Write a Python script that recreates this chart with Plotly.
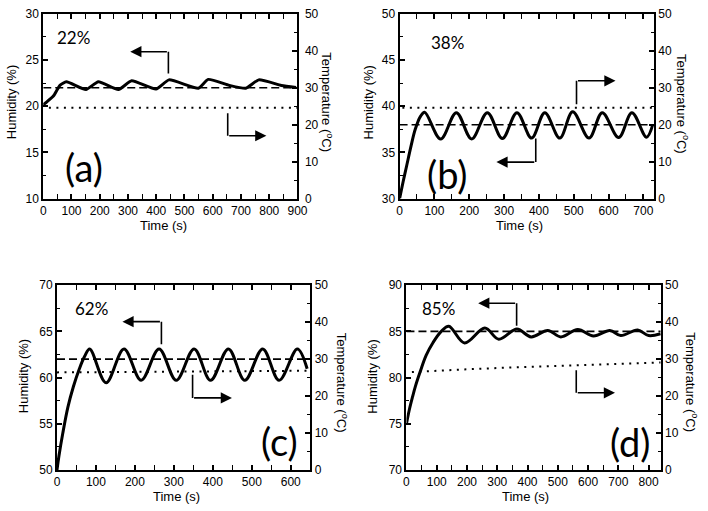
import plotly.graph_objects as go

W, H = 708, 511

# ---------------- data ----------------
# (a) 22 %
time_a = [0, 10, 36, 59, 82, 151, 195, 266, 313, 399, 445, 549, 584, 659, 717, 763, 843, 895]
hum_a = [20.15, 20.4, 21.1, 22.25, 22.65, 21.8, 22.65, 21.8, 22.75, 21.85, 22.85, 21.95, 22.9, 22.25, 21.95, 22.85, 22.25, 22.03]
temp_time_a = [20, 300, 600, 900]
temp_a = [24.6, 24.6, 24.6, 24.6]

# (b) 38 %
time_b = [0, 10, 20, 33, 45, 60, 72, 118, 163, 207, 252, 295, 337, 379, 417, 460, 497, 544, 582, 629, 667, 709, 727]
hum_b = [30, 31.8, 33.5, 35.7, 37.5, 38.9, 39.35, 36.45, 39.3, 36.45, 39.3, 36.5, 39.3, 36.55, 39.3, 36.55, 39.4, 36.55, 39.3, 36.6, 39.3, 36.65, 38.0]
temp_time_b = [8, 300, 730]
temp_b = [24.6, 24.6, 24.6]

# (c) 62 %
time_c = [0, 5, 15, 28, 42, 57, 71, 84, 126, 172, 216, 262, 306, 352, 394, 440, 482, 528, 570, 617, 642]
hum_c = [50, 51.5, 54.0, 56.8, 59.0, 60.9, 62.3, 63.1, 59.45, 63.1, 59.7, 63.1, 59.7, 63.1, 59.7, 63.1, 59.7, 63.1, 59.7, 63.1, 60.95]
temp_time_c = [0, 200, 400, 650]
temp_c = [26.4, 26.6, 26.75, 26.85]

# (d) 85 %
time_d = [0, 10, 20, 30, 45, 65, 88, 115, 140, 192, 259, 305, 365, 412, 467, 510, 566, 618, 672, 708, 764, 800, 840]
hum_d = [75, 76.6, 77.9, 79.1, 80.6, 82.4, 83.8, 85.0, 85.55, 83.75, 85.35, 84.15, 85.25, 84.4, 85.1, 84.4, 85.2, 84.5, 85.1, 84.55, 85.15, 84.55, 84.75]
temp_time_d = [18, 90, 200, 400, 564, 840]
temp_d = [26.5, 26.85, 27.25, 27.9, 28.4, 29.1]

setpoints = [22, 38, 62, 85]
labels_pct = ["22%", "38%", "62%", "85%"]
labels_panel = ["(a)", "(b)", "(c)", "(d)"]
x_max = [900, 730, 650, 840]
hum_ranges = [[10, 30], [30, 50], [50, 70], [70, 90]]
temp_range = [0, 50]

times = [time_a, time_b, time_c, time_d]
hums = [hum_a, hum_b, hum_c, hum_d]
ttimes = [temp_time_a, temp_time_b, temp_time_c, temp_time_d]
temps = [temp_a, temp_b, temp_c, temp_d]

# ---------------- layout geometry (pixels) ----------------
boxes = [(41, 300, 7, 197), (404, 663, 7, 197), (55, 313, 286, 476), (411, 670, 286, 476)]
right_label_standoff = [3, 0, 0, 0]


def px(x, y):
    return x / W, 1 - y / H


fig = go.Figure()
TICKFONT = dict(family="Liberation Sans, Arial, sans-serif", size=12, color="black")
TITLEFONT = dict(family="Liberation Sans, Arial, sans-serif", size=13, color="black")
LABFONT = "Lato, Noto Sans, sans-serif"

layout = dict(
    width=W, height=H, margin=dict(l=0, r=0, t=0, b=0),
    paper_bgcolor="white", plot_bgcolor="white", showlegend=False,
)
annotations = []
shapes = []

for i in range(4):
    xn = "x" if i == 0 else f"x{i+1}"
    yl = "y" if i == 0 else f"y{2*i+1}"
    yr = f"y{2*i+2}"
    xkey = "xaxis" if i == 0 else f"xaxis{i+1}"
    ylkey = "yaxis" if i == 0 else f"yaxis{2*i+1}"
    yrkey = f"yaxis{2*i+2}"
    x0, x1, y0, y1 = boxes[i]
    dx = [x0 / W, x1 / W]
    dy = [1 - y1 / H, 1 - y0 / H]

    layout[xkey] = dict(
        domain=dx, anchor=yl, range=[0, x_max[i]], dtick=100, tick0=0,
        ticks="inside", ticklen=5, tickwidth=1.5, tickcolor="black",
        showline=True, linewidth=2, linecolor="black", mirror="allticks",
        showgrid=False, zeroline=False, tickfont=TICKFONT,
        minor=dict(dtick=50, ticks="inside", ticklen=3, tickwidth=1.2, tickcolor="black", showgrid=False),
    )
    layout[ylkey] = dict(
        domain=dy, anchor=xn, range=hum_ranges[i], dtick=5, tick0=0,
        ticks="inside", ticklen=5, tickwidth=1.5, tickcolor="black",
        showline=True, linewidth=2, linecolor="black",
        showgrid=False, zeroline=False, tickfont=TICKFONT,
        minor=dict(dtick=2.5, ticks="inside", ticklen=3, tickwidth=1.2, tickcolor="black", showgrid=False),
    )
    layout[yrkey] = dict(
        overlaying=yl, anchor=xn, side="right", range=temp_range, dtick=10, tick0=0,
        ticks="inside", ticklen=5, tickwidth=1.5, tickcolor="black",
        showline=True, linewidth=2, linecolor="black",
        showgrid=False, zeroline=False, tickfont=TICKFONT,
        ticklabelstandoff=right_label_standoff[i],
        minor=dict(dtick=5, ticks="inside", ticklen=3, tickwidth=1.2, tickcolor="black", showgrid=False),
    )

    # setpoint dashed line
    fig.add_trace(go.Scatter(
        x=[0, x_max[i]], y=[setpoints[i], setpoints[i]], xaxis=xn, yaxis=yl,
        mode="lines", line=dict(color="black", width=1.6, dash="8px,4px"), hoverinfo="skip"))
    # temperature dotted
    fig.add_trace(go.Scatter(
        x=ttimes[i], y=temps[i], xaxis=xn, yaxis=yr,
        mode="lines", line=dict(color="black", width=2, dash="2px,5.5px"), hoverinfo="skip"))
    # humidity
    fig.add_trace(go.Scatter(
        x=times[i], y=hums[i], xaxis=xn, yaxis=yl,
        mode="lines", line=dict(color="black", width=3, shape="spline", smoothing=0.5 if i == 0 else 1.0),
        hoverinfo="skip"))

# axis titles as annotations
left_titles = [(8, 98), (372, 98), (21, 380), (377, 380)]
time_titles = [(163, 225), (526, 225), (177, 503), (532, 503)]
right_titles = [(330, 98), (692, 100), (345, 386), (701, 386)]
for i in range(4):
    x, y = px(*left_titles[i])
    annotations.append(dict(text="Humidity (%)", x=x, y=y, xref="paper", yref="paper",
                            showarrow=False, textangle=-90, font=TITLEFONT,
                            xanchor="center", yanchor="middle"))
    x, y = px(*time_titles[i])
    annotations.append(dict(text="Time (s)", x=x, y=y, xref="paper", yref="paper",
                            showarrow=False, font=TITLEFONT, xanchor="center", yanchor="middle"))
    x, y = px(*right_titles[i])
    annotations.append(dict(text="Temperature (<sup>o</sup>C)", x=x, y=y, xref="paper", yref="paper",
                            showarrow=False, textangle=90, font=TITLEFONT,
                            xanchor="center", yanchor="middle"))

# percent labels and panel labels
pct_pos = [(72, 31), (453, 37), (90, 310), (444, 310)]
pan_pos = [(83, 164), (452, 172), (282, 446), (639, 447)]
for i in range(4):
    x, y = px(*pct_pos[i])
    annotations.append(dict(text=labels_pct[i], x=x, y=y, xref="paper", yref="paper",
                            showarrow=False, font=dict(family=LABFONT, size=17, color="black"),
                            xanchor="center", yanchor="middle"))
    x, y = px(*pan_pos[i])
    annotations.append(dict(text=labels_panel[i], x=x, y=y, xref="paper", yref="paper",
                            showarrow=False, font=dict(family=LABFONT, size=38, color="black"),
                            xanchor="center", yanchor="middle"))

# L-shaped arrows: (xref, yref, x_vert, y_start, y_corner, x_head)
arrows = [
    ("x", "y", 443, 23.55, 25.9, 308),
    ("x", "y", 653, 19.25, 16.8, 790),
    ("x2", "y3", 508, 40.2, 42.75, 620),
    ("x2", "y3", 391, 36.5, 33.95, 278),
    ("x3", "y5", 268, 63.6, 66.05, 168),
    ("x3", "y5", 348, 60.3, 57.8, 449),
    ("x4", "y7", 364, 85.6, 88.05, 237),
    ("x4", "y7", 561, 80.8, 78.35, 689),
]
for xr, yr_, xv, ys, yc, xh in arrows:
    shapes.append(dict(type="line", xref=xr, yref=yr_, x0=xv, x1=xv, y0=ys, y1=yc,
                       line=dict(color="black", width=1.6)))
    annotations.append(dict(text="", xref=xr, yref=yr_, axref=xr, ayref=yr_,
                            x=xh, y=yc, ax=xv, ay=yc, showarrow=True,
                            arrowhead=2, arrowsize=1.4, arrowwidth=1.6, arrowcolor="black",
                            standoff=0, startstandoff=0))

layout["annotations"] = annotations
layout["shapes"] = shapes
fig.update_layout(**layout)
fig.write_html("out.html", config={"displayModeBar": False},
               post_script="document.body.style.margin='0px';")
